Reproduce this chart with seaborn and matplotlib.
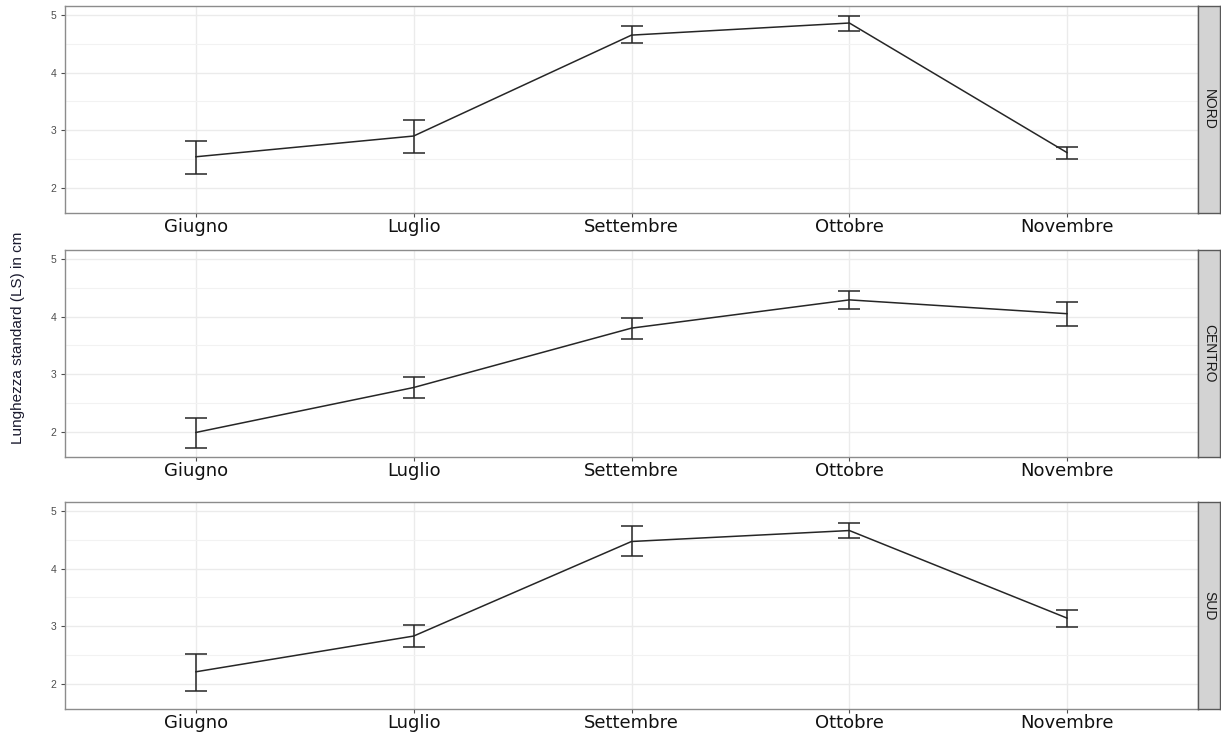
import numpy as np
import pandas as pd
import matplotlib
matplotlib.use("Agg")
import matplotlib.pyplot as plt
from matplotlib.ticker import MultipleLocator
import seaborn as sns

# Mean standard length (cm) per month and area, with error-bar limits
mesi = ["Giugno", "Luglio", "Settembre", "Ottobre", "Novembre"]
aree = ["NORD", "CENTRO", "SUD"]

media_nord = [2.54, 2.90, 4.65, 4.86, 2.61]
inf_nord = [2.24, 2.61, 4.51, 4.72, 2.50]
sup_nord = [2.82, 3.18, 4.81, 4.98, 2.71]

media_centro = [1.99, 2.77, 3.80, 4.29, 4.05]
inf_centro = [1.72, 2.59, 3.62, 4.14, 3.83]
sup_centro = [2.25, 2.95, 3.97, 4.44, 4.26]

media_sud = [2.21, 2.83, 4.47, 4.66, 3.14]
inf_sud = [1.88, 2.64, 4.21, 4.53, 2.99]
sup_sud = [2.52, 3.03, 4.74, 4.79, 3.29]

frames = []
for area, m, lo, hi in [("NORD", media_nord, inf_nord, sup_nord),
                        ("CENTRO", media_centro, inf_centro, sup_centro),
                        ("SUD", media_sud, inf_sud, sup_sud)]:
    frames.append(pd.DataFrame({"area": area, "mese": mesi, "media": m,
                                "inf": lo, "sup": hi}))
df = pd.concat(frames, ignore_index=True)

sns.set_theme(style="white")
plt.rcParams["font.family"] = ["Liberation Sans", "DejaVu Sans"]

W, H = 1221, 736
fig = plt.figure(figsize=(W / 100, H / 100), dpi=100)

# panel placement in pixels: top edges, common height, left/right edges
tops = [6, 250, 502]
ph = 207
left, right = 65, 1198

grid_col = "#ebebeb"
line_col = "#262626"

for top, area in zip(tops, aree):
    ax = fig.add_axes([left / W, 1 - (top + ph) / H, (right - left) / W, ph / H])
    d = df[df["area"] == area]
    sns.lineplot(data=d, x="mese", y="media", ax=ax, color=line_col,
                 linewidth=1.1, sort=False, errorbar=None, legend=False)
    err = np.vstack([d["media"] - d["inf"], d["sup"] - d["media"]])
    ax.errorbar(d["mese"], d["media"], yerr=err, fmt="none",
                ecolor=line_col, elinewidth=1.1, capsize=7.6,
                capthick=1.1, zorder=3)

    ax.set_xlim(-0.6, 4.6)
    ax.set_ylim(1.565, 5.155)
    ax.yaxis.set_major_locator(MultipleLocator(1))
    ax.yaxis.set_minor_locator(MultipleLocator(0.5))
    ax.set_axisbelow(True)
    ax.grid(True, which="major", axis="both", color=grid_col, linewidth=1.0)
    ax.grid(True, which="minor", axis="y", color="#f2f2f2", linewidth=0.8)
    ax.set_xlabel("")
    ax.set_ylabel("")
    for s in ax.spines.values():
        s.set_color("#8c8c8c")
        s.set_linewidth(1.0)
    ax.tick_params(axis="y", which="major", length=3, width=0.8,
                   color="#4d4d4d", labelsize=7.5, labelcolor="#4d4d4d", pad=3,
                   left=True)
    ax.tick_params(axis="y", which="minor", length=0)
    ax.tick_params(axis="x", length=3, width=0.8, color="#4d4d4d",
                   labelsize=13, labelcolor="#111111", pad=0.5, bottom=True)
    for lab in ax.get_xticklabels():
        lab.set_family(["DejaVu Sans"])

    # strip on the right with the area name
    sax = fig.add_axes([right / W, 1 - (top + ph) / H, 22 / W, ph / H])
    sax.set_facecolor("#d3d3d3")
    sax.set_xticks([])
    sax.set_yticks([])
    for s in sax.spines.values():
        s.set_color("#595959")
        s.set_linewidth(1.0)
    sax.text(0.5, 0.5, area, rotation=-90, ha="center", va="center",
             fontsize=10, color="#1a1a1a",
             family=["Liberation Sans Narrow", "Liberation Sans", "DejaVu Sans"],
             transform=sax.transAxes)

fig.text(18 / W, 1 - 338 / H, "Lunghezza standard (LS) in cm", rotation=90,
         ha="center", va="center", fontsize=11, color="#1a1a2e",
         family=["Liberation Sans Narrow", "Liberation Sans", "DejaVu Sans"])

fig.savefig("out.png", dpi=100)
